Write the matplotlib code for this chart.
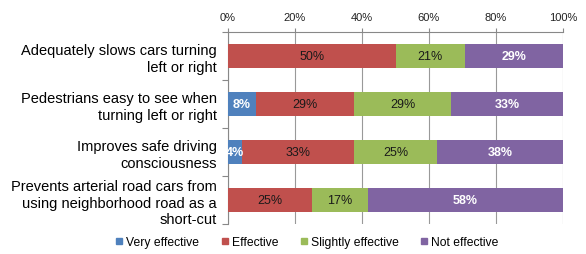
import matplotlib
matplotlib.use("Agg")
import matplotlib.pyplot as plt
from matplotlib.lines import Line2D
import numpy as np

plt.rcParams['font.family'] = ['Liberation Sans', 'DejaVu Sans']

categories = [
    "Adequately slows cars turning\nleft or right",
    "Pedestrians easy to see when\nturning left or right",
    "Improves safe driving\nconsciousness",
    "Prevents arterial road cars from\nusing neighborhood road as a\nshort-cut",
]
series_names = ["Very effective", "Effective", "Slightly effective", "Not effective"]
very_effective = [0.0, 8.3, 4.2, 0.0]
effective = [50.0, 29.2, 33.3, 25.0]
slightly_effective = [20.8, 29.2, 25.0, 16.7]
not_effective = [29.2, 33.3, 37.5, 58.3]
xtick_values = [0, 20, 40, 60, 80, 100]
xtick_labels = ["0%", "20%", "40%", "60%", "80%", "100%"]

colors = ["#4F81BD", "#C0504D", "#9BBB59", "#8064A2"]
label_colors = ["white", "#1a1a1a", "#1a1a1a", "white"]
label_weights = ["bold", "normal", "normal", "bold"]

fig = plt.figure(figsize=(5.86, 2.55), dpi=100)
ax = fig.add_axes([228/586, 1-225/255, (563-228)/586, (225-33)/255])

y = np.arange(len(categories))
left = np.zeros(len(categories))
all_series = [very_effective, effective, slightly_effective, not_effective]
for vals, c, lc, lw in zip(all_series, colors, label_colors, label_weights):
    vals = np.array(vals)
    ax.barh(y, vals, left=left, height=0.5, color=c, zorder=3)
    for yi, (l, v) in enumerate(zip(left, vals)):
        if v > 0:
            ax.text(l + v/2, yi, f"{v:.0f}%", ha="center", va="center",
                    color=lc, fontsize=9, fontweight=lw, zorder=4)
    left = left + vals

ax.set_xlim(0, 100)
ax.set_ylim(3.5, -0.5)
ax.set_yticks(y)
ax.set_yticklabels(categories, fontsize=10.5, ha="right", linespacing=1.2)
ax.set_yticks([-0.5, 0.5, 1.5, 2.5, 3.5], minor=True)
ax.tick_params(axis="y", which="major", length=0, pad=8)
ax.tick_params(axis="y", which="minor", length=4, color="#888888", width=0.8)

ax.xaxis.tick_top()
ax.set_xticks(xtick_values)
ax.set_xticklabels(xtick_labels, fontsize=8, color="#222222")
ax.tick_params(axis="x", length=3, color="#888888", width=0.8, pad=4)
ax.grid(axis="x", color="#999999", linewidth=0.8, zorder=0)

for s in ["bottom", "right"]:
    ax.spines[s].set_visible(False)
for s in ["top", "left"]:
    ax.spines[s].set_color("#888888")
    ax.spines[s].set_linewidth(0.8)

handles = [Line2D([0], [0], marker="s", linestyle="none", markersize=5,
                  markerfacecolor=c, markeredgecolor=c) for c in colors]
fig.legend(handles, series_names, loc="center", bbox_to_anchor=(307/586, 1-243/255),
           ncol=4, frameon=False, fontsize=8.7, handlelength=0.6, handletextpad=0.3,
           columnspacing=1.8, borderaxespad=0)

fig.savefig("out.png", dpi=100)
